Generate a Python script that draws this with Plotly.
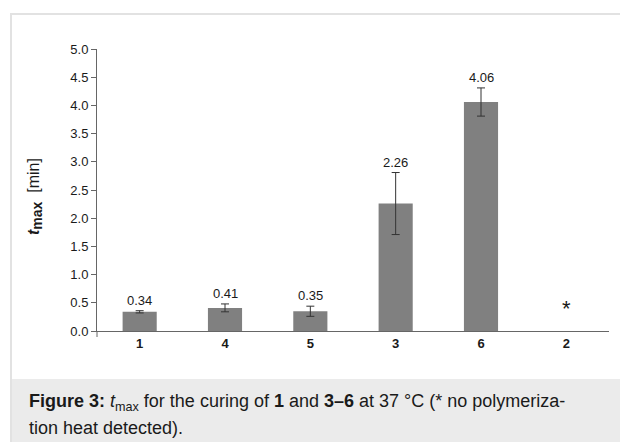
import plotly.graph_objects as go

# ---- data ----
compounds = ["1", "4", "5", "3", "6", "2"]
t_max = [0.34, 0.41, 0.35, 2.26, 4.06, None]
t_err = [0.02, 0.07, 0.09, 0.55, 0.25, None]
value_labels = ["0.34", "0.41", "0.35", "2.26", "4.06", None]
no_heat_marker = "*"
no_heat_compound = "2"
no_heat_marker_y = 0.45
y_ticks = [0.0, 0.5, 1.0, 1.5, 2.0, 2.5, 3.0, 3.5, 4.0, 4.5, 5.0]

FONT = "Liberation Sans, Arial, sans-serif"

W, H = 620, 442
L, R, T, B = 97, 11, 49, 111
pw, ph = W - L - R, H - T - B


def px_x(x):
    return (x - L) / pw


def px_y(y):
    return (H - B - y) / ph


fig = go.Figure()
fig.add_trace(go.Bar(
    x=compounds,
    y=t_max,
    width=0.4,
    marker=dict(color="#808080", line=dict(width=0)),
    error_y=dict(type="data", array=t_err, visible=True,
                 color="#333333", thickness=1, width=4),
    hoverinfo="skip",
    showlegend=False,
))

annotations = []
for i, (v, e, lab) in enumerate(zip(t_max, t_err, value_labels)):
    if v is None or lab is None:
        continue
    annotations.append(dict(
        x=i, y=v + e, xref="x", yref="y", text=lab, showarrow=False,
        yanchor="bottom", xanchor="center", yshift=1,
        font=dict(family=FONT, size=13, color="#1a1a1a"),
    ))

annotations.append(dict(
    x=compounds.index(no_heat_compound), y=no_heat_marker_y, xref="x", yref="y",
    text=no_heat_marker, showarrow=False, yanchor="middle", xanchor="center",
    yshift=-3, font=dict(family=FONT, size=22, color="#1a1a1a"),
))

# y-axis title
annotations.append(dict(
    x=px_x(35), y=px_y(197), xref="paper", yref="paper",
    text="<b><i>t</i><sub><span style='font-size:14px'>max</span></sub></b>  [min]",
    textangle=-90,
    showarrow=False, xanchor="center", yanchor="middle",
    font=dict(family=FONT, size=16, color="#1a1a1a"),
))

# caption
annotations.append(dict(
    x=px_x(27), y=px_y(402), xref="paper", yref="paper",
    text="<b>Figure 3:</b> <i>t</i><sub>max</sub> for the curing of <b>1</b> and <b>3–6</b> at 37 °C (* no polymeriza-",
    showarrow=False, xanchor="left", yanchor="middle",
    font=dict(family=FONT, size=18, color="#1a1a1a"),
))
annotations.append(dict(
    x=px_x(27), y=px_y(428), xref="paper", yref="paper",
    text="tion heat detected).",
    showarrow=False, xanchor="left", yanchor="middle",
    font=dict(family=FONT, size=18, color="#1a1a1a"),
))

shapes = [
    # caption background
    dict(type="rect", xref="paper", yref="paper",
         x0=px_x(10), x1=px_x(622), y0=px_y(379), y1=px_y(444),
         fillcolor="#ebebeb", line=dict(width=0), layer="below"),
    # frame lines
    dict(type="line", xref="paper", yref="paper",
         x0=px_x(10), x1=px_x(622), y0=px_y(14), y1=px_y(14),
         line=dict(color="#e2e2e2", width=2)),
    dict(type="line", xref="paper", yref="paper",
         x0=px_x(11), x1=px_x(11), y0=px_y(13), y1=px_y(444),
         line=dict(color="#e2e2e2", width=2)),
    # y-axis extension below the baseline
    dict(type="line", xref="paper", yref="paper",
         x0=0, x1=0, y0=0, y1=px_y(H - B + 6),
         line=dict(color="#666666", width=1)),
]

fig.update_layout(
    width=W, height=H, autosize=False,
    margin=dict(l=L, r=R, t=T, b=B, pad=0),
    paper_bgcolor="white", plot_bgcolor="white",
    font=dict(family=FONT, size=13, color="#1a1a1a"),
    annotations=annotations,
    shapes=shapes,
    xaxis=dict(
        type="category", categoryorder="array", categoryarray=compounds,
        range=[-0.5, 5.5], showline=True, linecolor="#666666", linewidth=1,
        ticks="", showgrid=False, zeroline=False,
        tickfont=dict(family=FONT, size=13, color="#1a1a1a"),
        tickvals=compounds, ticktext=[f"<b>{c}</b>" for c in compounds],
        fixedrange=True,
    ),
    yaxis=dict(
        range=[0, 5], showline=True, linecolor="#666666", linewidth=1,
        ticks="outside", ticklen=5, tickcolor="#666666", tickwidth=1,
        tickvals=y_ticks, ticktext=[f"{v:.1f}" for v in y_ticks],
        showgrid=False, zeroline=False,
        tickfont=dict(family=FONT, size=13, color="#1a1a1a"),
        fixedrange=True,
    ),
)

fig.write_html(
    "out.html",
    config={"displayModeBar": False},
    post_script="document.body.style.margin='0';document.body.style.padding='0';",
)
